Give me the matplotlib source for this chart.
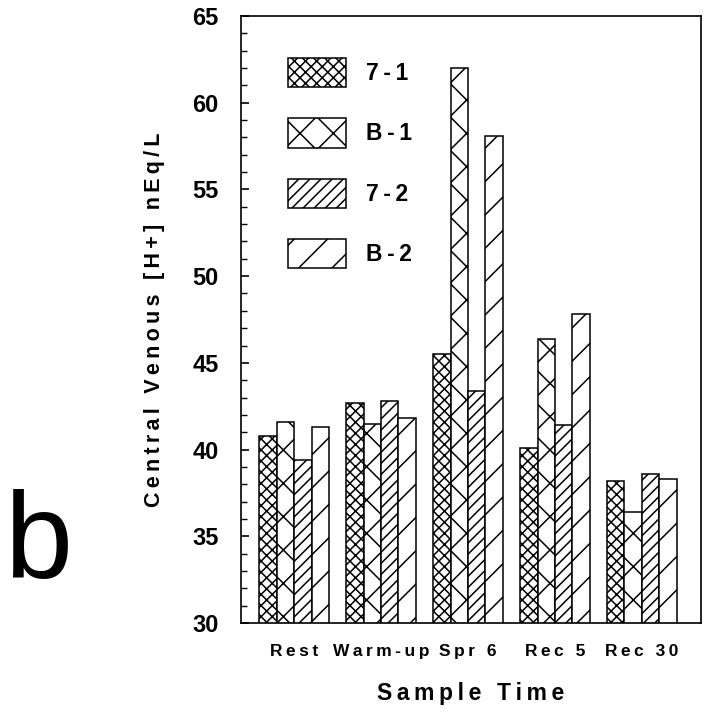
import numpy as np
import matplotlib.pyplot as plt
from matplotlib.ticker import MultipleLocator

# Sample times and series values (nEq/L)
times = ['Rest', 'Warm-up', 'Spr 6', 'Rec 5', 'Rec 30']
series = ['7-1', 'B-1', '7-2', 'B-2']
v_7_1 = [40.8, 42.7, 45.5, 40.1, 38.2]
v_b_1 = [41.6, 41.5, 62.0, 46.4, 36.4]
v_7_2 = [39.4, 42.8, 43.4, 41.4, 38.6]
v_b_2 = [41.3, 41.8, 58.1, 47.8, 38.3]

hatches = ['xxx', 'x', '///', '/']


def spaced(s):
    # old typewriter-ish letter spacing
    return '\u2009'.join(s)


plt.rcParams['font.family'] = ['Liberation Sans', 'DejaVu Sans']
plt.rcParams['hatch.linewidth'] = 1.1

fig = plt.figure(figsize=(7.07, 7.13), dpi=100)
ax = fig.add_axes([0.341, 0.1262, 0.6505, 0.8514])

x = np.arange(len(times))
width = 0.2
for i, vals in enumerate([v_7_1, v_b_1, v_7_2, v_b_2]):
    ax.bar(x + (i - 1.5) * width, vals, width, color='white',
           edgecolor='black', linewidth=1.1, hatch=hatches[i],
           label=spaced(series[i]))

ax.set_ylim(30, 65)
ax.set_xlim(-0.61, 4.68)
ax.yaxis.set_major_locator(MultipleLocator(5))
ax.yaxis.set_minor_locator(MultipleLocator(1))
ax.tick_params(axis='y', which='major', direction='in', length=6, width=1.2,
               pad=16, labelsize=17)
ax.tick_params(axis='y', which='minor', direction='in', length=4, width=1.0)
for lab in ax.get_yticklabels():
    lab.set_fontweight('bold')
ax.set_xticks(x)
ax.set_xticklabels([spaced(t) for t in times], fontsize=12.5, fontweight='bold')
ax.tick_params(axis='x', length=0, pad=15)
for s in ax.spines.values():
    s.set_linewidth(1.2)

ax.set_ylabel(spaced('Central Venous [H+] nEq/L'), fontsize=15.5,
              fontweight='bold', labelpad=20)
ax.set_xlabel(spaced('Sample Time'), fontsize=16.5, fontweight='bold',
              labelpad=17)

ax.legend(loc='upper left', bbox_to_anchor=(0.102, 0.931), frameon=False,
          prop={'size': 16.5, 'weight': 'bold'}, handlelength=2.55,
          handleheight=1.6, labelspacing=1.35, handletextpad=0.85,
          borderpad=0, borderaxespad=0)

fig.text(0.006, 0.1893, 'b', fontsize=88, ha='left', va='baseline')

fig.savefig('out.png', dpi=100)
